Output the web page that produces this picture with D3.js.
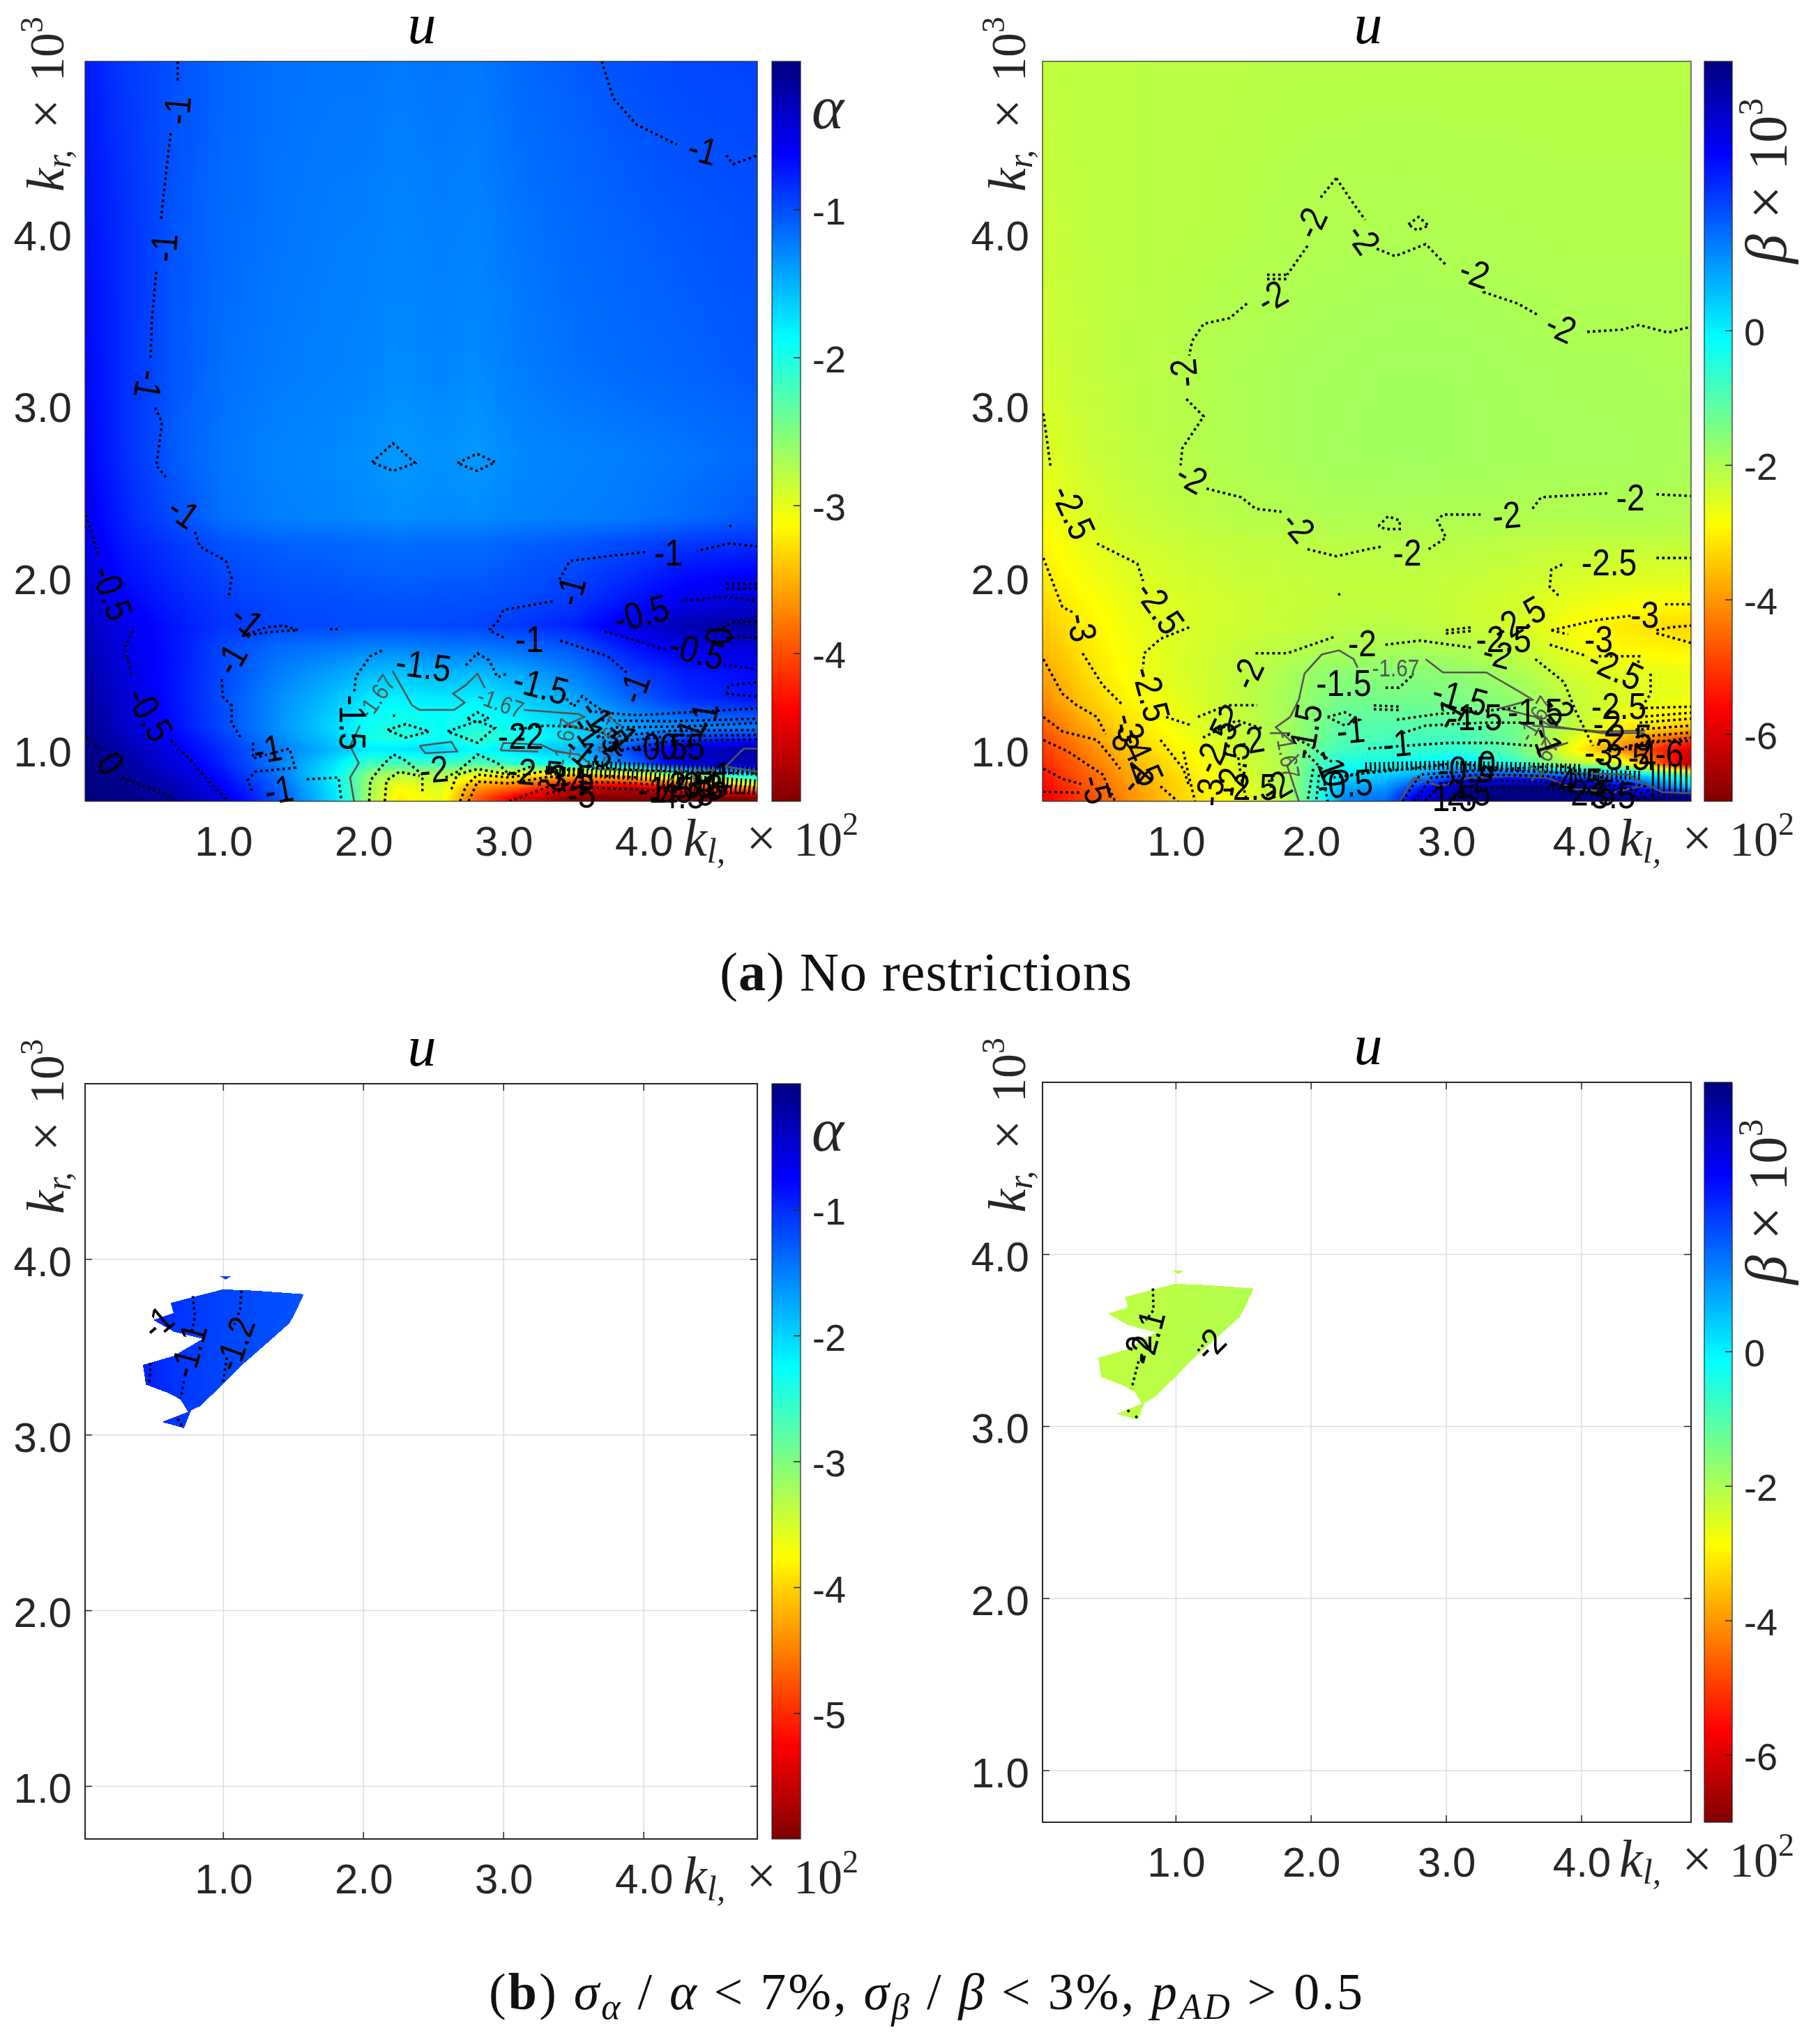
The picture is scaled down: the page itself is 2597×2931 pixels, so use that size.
<!DOCTYPE html>
<html><head><meta charset="utf-8">
<style>
html,body{margin:0;padding:0;background:#fff}
#wrap{position:relative;width:2597px;height:2931px;overflow:hidden;background:#fff}
canvas,svg{position:absolute;left:0;top:0}
</style>
<script src="https://cdn.jsdelivr.net/npm/d3@7"></script>
</head><body><div id="wrap"><svg id="grid" width="2597" height="2931"></svg><canvas id="cv" width="2597" height="2931"></canvas><svg id="chart" width="2597" height="2931"></svg></div>
<script>
// ---------- data ----------
const kl=[0.02,0.3,0.65,1.0,1.4,1.8,2.05,2.25,2.55,2.8,3.1,3.5,3.9,4.3,4.81];
const kr=[5.0,4.0,3.2,2.7,2.35,2.2,2.0,1.85,1.72,1.6,1.45,1.3,1.2,1.13,1.07,1.0,0.92,0.85,0.78,0.72];
const xTicks=[1,2,3,4];
const yTicks=[1,2,3,4];
const alphaTicksA=[-1,-2,-3,-4];
const alphaTicksB=[-1,-2,-3,-4,-5];
const betaTicks=[0,-2,-4,-6];
const alphaGrid=[
[-.75,-.9,-1.02,-1.12,-1.18,-1.2,-1.2,-1.23,-1.2,-1.22,-1.14,-1.08,-1.02,-.97,-.95],
[-.7,-.85,-1.04,-1.14,-1.2,-1.24,-1.25,-1.28,-1.25,-1.27,-1.2,-1.14,-1.1,-1.06,-1.02],
[-.65,-.85,-1.05,-1.17,-1.23,-1.26,-1.28,-1.31,-1.28,-1.31,-1.24,-1.18,-1.14,-1.11,-1.06],
[-.62,-.85,-1.07,-1.2,-1.27,-1.3,-1.33,-1.37,-1.33,-1.37,-1.3,-1.27,-1.24,-1.2,-1.14],
[-.55,-.8,-1.0,-1.17,-1.25,-1.28,-1.3,-1.32,-1.3,-1.31,-1.27,-1.25,-1.22,-1.15,-1.05],
[-.5,-.75,-.9,-1.03,-1.1,-1.12,-1.14,-1.16,-1.14,-1.15,-1.1,-1.05,-.98,-.9,-.85],
[-.42,-.68,-.83,-.96,-1.03,-1.06,-1.08,-1.1,-1.08,-1.08,-1.03,-.96,-.82,-.66,-.58],
[-.35,-.6,-.78,-.9,-.98,-1.0,-1.02,-1.03,-1.02,-1.01,-.98,-.88,-.7,-.52,-.42],
[-.3,-.52,-.72,-.88,-.96,-.98,-1.0,-1.0,-.98,-.96,-.9,-.78,-.48,-.22,-.12],
[-.25,-.5,-.72,-.97,-1.14,-1.2,-1.25,-1.25,-1.2,-1.2,-1.14,-1.03,-.72,-.5,-.42],
[-.2,-.45,-.72,-.98,-1.24,-1.42,-1.54,-1.58,-1.5,-1.54,-1.44,-1.24,-.95,-.75,-.65],
[-.15,-.42,-.72,-1.0,-1.32,-1.58,-1.78,-1.82,-1.76,-1.8,-1.66,-1.44,-1.12,-.85,-.7],
[-.1,-.38,-.7,-.98,-1.34,-1.66,-1.9,-1.95,-1.88,-1.95,-1.8,-1.6,-1.32,-1.1,-1.0],
[-.08,-.35,-.68,-.98,-1.35,-1.7,-1.95,-2.0,-1.9,-2.02,-1.9,-1.68,-1.42,-1.28,-1.18],
[-.05,-.3,-.62,-.92,-1.3,-1.65,-1.95,-2.05,-1.9,-2.12,-1.97,-1.72,-1.3,-.95,-.85],
[-.03,-.22,-.55,-.85,-1.22,-1.55,-1.8,-1.75,-1.68,-1.9,-1.72,-1.55,-.95,-.35,-.2],
[-.01,-.15,-.45,-.8,-1.25,-1.75,-2.2,-2.2,-2.15,-2.25,-2.05,-1.8,-1.2,-.4,-.2],
[0,-.1,-.35,-.7,-1.2,-1.85,-2.6,-2.8,-2.75,-3.1,-3.2,-3.5,-3.3,-2.5,-1.8],
[0,-.05,-.25,-.6,-1.1,-1.8,-2.7,-3.1,-2.95,-3.6,-3.9,-4.6,-4.7,-4.3,-3.5],
[0,-.02,-.18,-.5,-1.05,-1.75,-2.7,-3.2,-3.0,-3.9,-4.5,-5,-5,-5,-5]];
const betaGrid=[
[-2.2,-2.15,-2.15,-2.12,-2.12,-2.1,-2.1,-2.1,-2.1,-2.1,-2.1,-2.1,-2.1,-2.1,-2.1],
[-2.3,-2.2,-2.15,-2.12,-2.1,-2.05,-2.03,-2.02,-2.0,-2.0,-2.02,-2.03,-2.05,-2.05,-2.05],
[-2.4,-2.25,-2.15,-2.1,-2.0,-1.95,-1.92,-1.9,-1.88,-1.87,-1.88,-1.92,-1.95,-1.95,-1.98],
[-2.55,-2.35,-2.2,-2.1,-2.02,-1.95,-1.9,-1.88,-1.87,-1.85,-1.87,-1.9,-1.92,-1.93,-1.95],
[-2.8,-2.5,-2.3,-2.2,-2.1,-2.05,-2.02,-2.0,-1.98,-2.0,-2.0,-2.02,-2.02,-2.0,-2.02],
[-2.95,-2.65,-2.4,-2.3,-2.22,-2.18,-2.15,-2.12,-2.1,-2.1,-2.12,-2.15,-2.2,-2.2,-2.2],
[-3.1,-2.8,-2.55,-2.4,-2.3,-2.25,-2.22,-2.2,-2.2,-2.2,-2.25,-2.3,-2.45,-2.5,-2.55],
[-3.3,-2.95,-2.65,-2.5,-2.35,-2.3,-2.25,-2.22,-2.22,-2.22,-2.3,-2.4,-2.65,-2.8,-2.9],
[-3.45,-3.05,-2.7,-2.5,-2.35,-2.25,-2.2,-2.15,-2.12,-2.15,-2.25,-2.4,-2.8,-3.1,-3.3],
[-3.6,-3.15,-2.75,-2.5,-2.3,-2.15,-2.05,-2.0,-1.98,-1.98,-2.05,-2.25,-2.65,-2.95,-3.05],
[-3.85,-3.3,-2.8,-2.5,-2.25,-2.0,-1.75,-1.65,-1.62,-1.6,-1.7,-1.95,-2.4,-2.6,-2.65],
[-4.1,-3.5,-2.95,-2.6,-2.25,-1.95,-1.6,-1.4,-1.4,-1.4,-1.45,-1.7,-2.2,-2.5,-2.7],
[-4.4,-3.7,-3.1,-2.7,-2.3,-1.95,-1.5,-1.2,-1.15,-1.2,-1.25,-1.5,-2.1,-2.7,-3.0],
[-4.6,-3.9,-3.2,-2.75,-2.3,-1.95,-1.4,-1.05,-1.0,-1.0,-1.0,-1.35,-2.1,-3.0,-3.5],
[-4.8,-4.1,-3.3,-2.85,-2.35,-1.95,-1.35,-1.0,-.9,-.85,-.85,-1.3,-2.4,-3.6,-4.8],
[-5.0,-4.3,-3.5,-3.0,-2.45,-1.98,-1.1,-.8,-.7,-.7,-.6,-1.2,-2.7,-4.2,-6.0],
[-5.2,-4.5,-3.7,-3.15,-2.55,-2.0,-.9,-.4,-.3,-.1,.2,-.6,-2.0,-2.5,-6.5],
[-5.4,-4.7,-3.85,-3.25,-2.65,-2.05,-.7,.2,.4,.8,1.8,2.0,1.5,.9,-1.0],
[-5.6,-4.85,-4.0,-3.35,-2.75,-2.1,-.6,.8,1.0,2.2,3.6,4,4,3,.5],
[-5.7,-5.0,-4.1,-3.4,-2.8,-2.15,-.55,1.2,1.4,3.0,4,4,4,4,4]];
// region kept by the restrictions in (b)
const keptRegion=[[.624,3.752],[.81,3.791],[.996,3.829],[1.223,3.822],[1.574,3.802],[1.512,3.694],[1.471,3.636],[1.306,3.519],[1.14,3.403],[.996,3.287],[.831,3.163],[.769,3.14],[.719,3.039],[.562,3.074],[.748,3.132],[.694,3.202],[.604,3.24],[.447,3.287],[.426,3.399],[.645,3.45],[.851,3.547],[.645,3.589],[.5,3.655],[.645,3.694]];
const keptSpot=[[.975,3.905],[1.058,3.905],[1.015,3.885]];
// contour lines (k_l, k_r)
const alphaLines=[
[[.674,5],[.674,4.885]],
[[.624,4.583],[.595,4.382],[.554,4.079]],
[[.521,3.777],[.488,3.475],[.48,3.273]],
[[.513,2.988],[.562,2.904],[.542,2.769],[.521,2.652],[.604,2.568]],
[[.798,2.265],[.831,2.181],[1.017,2.097],[1.058,1.997],[1.037,1.879]],
[[1.132,1.661],[1.306,1.711],[1.429,1.721],[1.533,1.694],[1.429,1.69],[1.306,1.68],[1.132,1.661]],
[[1.76,1.7],[1.834,1.7]],
[[.988,1.409],[.996,1.308],[1.058,1.258],[1.058,1.157],[1.12,1.073]],
[[1.211,1.04],[1.211,.949],[1.471,1.006],[1.512,.895],[1.223,.871],[1.173,.821],[1.211,.75]],
[[1.595,.828],[1.822,.838],[1.842,.7]],
[[3.7,5],[3.783,4.785],[3.948,4.633],[4.237,4.516]],
[[4.588,4.455],[4.637,4.402],[4.815,4.455]],
[[4.61,2.3],[4.625,2.3]],
[[4.815,2.181],[4.609,2.198],[4.381,2.155]],
[[4.01,2.148],[3.741,2.124],[3.473,2.097],[3.391,1.98]],
[[3.349,1.862],[2.998,1.812],[2.957,1.745],[2.895,1.694],[3.019,1.644]],
[[3.403,1.634],[3.742,1.543],[3.886,1.442]],
[[.017,2.366],[.108,2.131]],
[[.356,1.694],[.294,1.594],[.348,1.426]],
[[.624,1.056],[.789,.922],[.851,.855],[1.037,.7]],
[[.017,1.073],[.129,1.006]],
[[.273,.838],[.604,.737],[.645,.7]],
[[2.131,1.576],[2.049,1.543],[1.945,1.425],[1.933,1.326]],
[[2.73,1.49],[2.813,1.56],[2.895,1.52],[2.957,1.42],[3.019,1.44]],
[[3.42,1.32],[3.5,1.25],[3.56,1.31],[3.66,1.25],[3.72,1.22]],
[[2.17,1.115],[2.3,1.148],[2.47,1.106],[2.3,1.07],[2.17,1.115]],
[[2.6,1.106],[2.813,1.167],[2.937,1.127],[2.813,1.04],[2.6,1.106]],
[[2.742,1.18],[2.813,1.217],[2.895,1.18],[2.813,1.157],[2.742,1.18]],
[[2.21,1.197],[2.225,1.197]],
[[3.07,1.117],[3.3,1.14],[3.55,1.13],[3.75,1.09]],
[[2.04,.7],[2.049,.821],[2.131,.905],[2.214,.972],[2.296,.938],[2.42,.855]],
[[2.42,.838],[2.42,.747]],
[[2.585,.838],[2.668,.871],[2.813,.972],[2.957,.922],[3.04,.855]],
[[2.152,.7],[2.164,.821],[2.255,.871],[2.4,.848]],
[[2.627,.77],[2.668,.855],[2.813,.888],[3.04,.855],[3.205,.905]],
[[2.689,.7],[2.73,.787],[2.813,.855],[3.04,.838],[3.267,.871],[3.535,.888]],
[[2.75,.7],[2.813,.814],[3.04,.804],[3.287,.838],[3.535,.855],[3.948,.838]],
[[3.04,.7],[3.329,.787],[3.535,.814],[3.948,.804],[4.361,.781]],
[[3.308,.747],[3.576,.781],[3.948,.77],[4.361,.747],[4.815,.747]],
[[3.659,.895],[3.948,.881],[4.361,.871],[4.815,.861]],
[[4.59,1.963],[4.815,1.963]],[[4.59,1.936],[4.815,1.936]],
[[4.258,1.862],[4.588,1.889],[4.815,1.862]],
[[3.72,1.688],[4.175,1.577]],
[[4.526,1.694],[4.65,1.745],[4.815,1.745]],
[[4.588,1.651],[4.815,1.651]],
[[4.567,1.493],[4.815,1.466]],
[[4.588,1.325],[4.609,1.375],[4.815,1.392]],
[[4.588,1.325],[4.815,1.308]],
[[3.65,1.22],[3.95,1.2],[4.4,1.22],[4.81,1.24]],
[[3.7,1.17],[4.2,1.165],[4.81,1.18]],
[[3.8,1.13],[4.3,1.135],[4.81,1.155]],
[[3.7,1.07],[4.2,1.11],[4.81,1.115]],
[[3.75,1.04],[4.2,1.08],[4.81,1.085]],
[[3.82,.93],[3.85,1.0],[4.2,1.05],[4.81,1.06]],
// the two small diamonds near k_r = 2.67
[[2.06,2.67],[2.21,2.78],[2.37,2.665],[2.21,2.62],[2.06,2.67]],
[[2.67,2.665],[2.81,2.72],[2.94,2.67],[2.81,2.62],[2.67,2.665]]];
const alphaGrey=[
[[2.206,1.459],[2.276,1.358],[2.346,1.258],[2.4,1.231],[2.647,1.231],[2.722,1.274],[2.639,1.325],[2.73,1.375],[2.813,1.442],[2.866,1.358]],
[[3.143,1.231],[3.535,1.207],[3.576,1.19],[3.432,1.14],[3.721,1.096]],
[[1.974,1.14],[1.904,1.022],[1.966,.922],[1.904,.838],[1.933,.7]],
[[2.4,1.022],[2.627,1.046],[2.668,.989],[2.441,.979],[2.4,1.022]],
[[2.978,.996],[2.998,1.039],[3.267,1.029],[3.37,.989],[3.535,.972],[3.659,.888]],
[[2.978,.996],[3.246,.989]],
[[3.659,.888],[4.278,.871]],
[[4.567,.888],[4.712,1.006],[4.815,1.006]],
[[4.567,.905],[4.815,.871]]];
const alphaHatch=[
[[3.6,.91],[4.2,.89],[4.81,.875]],
[[3.3,.88],[3.9,.85],[4.81,.80]],
[[4.1,.80],[4.81,.76]]];
const alphaLabels=[
[.666,4.717,"-1",-85],[.571,3.918,"-1",-85],[.471,3.122,"-1",100],[.719,2.383,"-1",35],[1.173,1.755,"-1",40],[1.05,1.526,"-1",-60],[1.314,1.006,"-1",-10],[1.396,.77,"-1",-10],[4.423,4.489,"-1",15],[4.175,2.148,"-1",0],[3.473,1.923,"-1",-75],[3.184,1.644,"-1",0],[3.927,1.358,"-1",-70],
[.211,1.913,"-0.5",70],[.48,1.207,"-0.5",60],[.199,.922,"0",55],[3.981,1.795,"-0.5",-15],[4.381,1.577,"-0.5",15],[4.538,1.66,"0",90],
[2.429,1.493,"-1.5",8],[3.267,1.375,"-1.5",15],[1.925,1.157,"-1.5",90],[2.503,.888,"-2",-5],[3.06,1.083,"-2",0],[3.184,1.083,"-2",0],[3.225,.871,"-2.5",5],[3.349,.838,"-3",0],[3.45,.838,"-3.5",0],[3.5,.82,"-4",0],[3.556,.744,"-5",0],
[3.721,1.14,"-1.5",55],[3.55,1.0,"-1",40],[3.66,1.05,"-1.5",55],[4.113,1.022,"-0.5",0],[4.237,1.022,"-0.5",0],[3.845,1.09,"-1",45],[4.423,1.19,"-1",-80],[4.319,1.09,"-1",-70],
[4.155,.77,"-1.5",0],[4.237,.737,"-4.5",0],[4.402,.754,"-5",0],[4.464,.787,"-3",0],[4.526,.855,"-1",0],[4.3,.8,"-2.5",0],[4.4,.8,"-3.5",0]];
const alphaGreyLabels=[[2.09,1.308,"-1.67",-55],[2.978,1.274,"-1.67",20],[3.432,1.046,"-1.67",-80],[4.34,.838,"-1.67",0],[3.75,1.06,"-1.67",-70]];
const betaLines=[
[[2.186,4.321],[2.058,4.197]],[[1.973,3.928],[1.823,3.76]],[[1.674,3.76],[1.823,3.76]],[[1.674,3.735],[1.823,3.735]],
[[1.525,3.592],[1.397,3.508],[1.205,3.475],[1.119,3.374],[1.098,3.29]],
[[1.077,3.038],[1.205,2.937],[1.047,2.752],[1.034,2.652]],
[[1.226,2.517],[1.482,2.467],[1.589,2.4],[1.781,2.383]],
[[1.973,2.165],[2.186,2.124],[2.421,2.165],[2.527,2.181]],
[[2.869,2.165],[2.997,2.232],[2.933,2.333],[2.975,2.366],[3.253,2.366]],
[[3.637,2.4],[3.701,2.467],[4.191,2.49]],[[4.554,2.484],[4.81,2.474]],
[[2.186,4.321],[2.292,4.197],[2.399,4.079]],
[[2.485,3.911],[2.621,3.868],[2.847,3.938],[2.997,3.817]],
[[3.274,3.693],[3.274,3.66],[3.53,3.592],[3.679,3.525]],
[[4.042,3.428],[4.298,3.441],[4.426,3.468],[4.639,3.424],[4.81,3.458]],
[[2.719,4.052],[2.795,4.096],[2.869,4.045],[2.783,4.019],[2.719,4.052]],
[[2.497,2.299],[2.569,2.356],[2.655,2.332],[2.655,2.282],[2.549,2.282],[2.497,2.299]],
[[2.2,1.9],[2.215,1.905]],
[[.019,2.954],[.074,2.635]],
[[.416,2.198],[.714,2.081],[.757,1.98]],
[[1.098,1.711],[.885,1.644],[.765,1.56],[.757,1.476]],
[[.927,1.19],[1.119,1.14]],
[[.019,2.114],[.16,1.829],[.245,1.795]],
[[.309,1.56],[.458,1.375],[.608,1.258]],
[[.885,1.056],[1.055,.888],[1.098,.787]],
[[.019,1.526],[.16,1.325],[.266,1.258],[.416,1.19],[.48,1.089]],
[[.019,1.19],[.16,1.106],[.416,1.056],[.522,.955],[.586,.888]],
[[.885,.787],[1.013,.7]],
[[.019,1.056],[.202,.989],[.458,.855],[.55,.7]],
[[.019,.89],[.16,.83],[.3,.8]],
[[.019,.755],[.3,.75]],
[[1.589,1.56],[1.823,1.56],[2.165,1.654]],
[[2.549,1.61],[2.805,1.634],[3.188,1.593]],
[[3.658,1.526],[3.871,1.392],[3.957,1.224],[4.084,1.022]],
[[2.55,1.36],[2.65,1.36],[2.76,1.44]],
[[1.162,1.19],[1.376,1.258],[1.602,1.258]],
[[1.055,.989],[1.098,.838],[1.141,.7]],
[[1.461,.955],[1.482,.838],[1.525,.7]],
[[1.674,.855],[1.738,.7]],
[[1.2,1.07],[1.45,1.17],[1.65,1.12]],
[[2.122,1.19],[2.25,1.217],[2.357,1.174],[2.25,1.14],[2.122,1.19]],
[[2.463,1.257],[2.655,1.25]],[[2.463,1.235],[2.655,1.23]],
[[2.634,1.174],[2.933,1.207],[3.274,1.224],[3.53,1.244]],
[[2.677,1.096],[2.847,1.14],[3.274,1.157],[3.572,1.157]],
[[2.421,1.006],[2.677,1.022],[3.018,1.039],[3.359,1.039],[3.658,1.022]],
[[1.823,1.09],[1.994,1.022],[2.165,.922]],
[[1.951,.989],[2.079,.888],[2.122,.7]],
[[2.015,.888],[1.973,.7]],
[[2.058,.855],[2.037,.7]],
[[2.165,.838],[2.335,.855],[2.591,.888]],
[[2.293,.855],[2.719,.888],[3.061,.922],[3.445,.888],[3.829,.905],[4.127,.871]],
[[2.677,.7],[2.805,.855],[3.274,.881],[3.7,.871],[4.042,.855],[4.468,.787],[4.554,.7]],
[[2.762,.7],[2.89,.838],[3.274,.855],[3.7,.848],[4.042,.821],[4.426,.76],[4.49,.7]],
[[2.847,.7],[2.954,.804],[3.274,.821],[3.7,.814],[4.042,.787],[4.383,.737],[4.426,.7]],
[[3.018,.7],[3.274,.781],[3.7,.781],[4.042,.747],[4.298,.7]],
[[3.777,1.694],[4.127,1.755],[4.362,1.778]],
[[3.777,1.694],[3.9,1.67]],
[[4.618,1.845],[4.81,1.845]],
[[4.554,1.694],[4.66,1.711],[4.81,1.721]],
[[4.554,1.677],[4.81,1.62]],
[[3.765,1.61],[4.042,1.543]],
[[4.127,1.543],[4.426,1.543],[4.417,1.493]],
[[4.511,1.442],[4.511,1.325],[4.468,1.274]],
[[3.829,1.896],[3.765,1.946],[3.777,2.047],[3.871,2.081]],
[[4.554,2.114],[4.81,2.114]],
[[2.997,1.694],[3.188,1.711]],[[2.997,1.675],[3.188,1.69]],
[[4.43,1.241],[4.81,1.25]],[[4.43,1.19],[4.81,1.215]],[[4.43,1.157],[4.81,1.18]],[[4.4,1.116],[4.81,1.14]],[[4.4,1.073],[4.81,1.1]],[[4.35,1.022],[4.81,1.07]],[[4.2,.989],[4.5,1.05],[4.81,1.05]]];
const betaGrey=[
[[1.845,1.19],[1.909,1.291],[1.951,1.442],[2.079,1.553],[2.207,1.577],[2.314,1.526],[2.344,1.476]],
[[2.847,1.526],[2.975,1.449],[3.295,1.449],[3.53,1.342],[3.637,1.291],[3.402,1.241],[3.658,1.19],[3.765,1.14],[4.148,1.096],[4.468,1.096]],
[[3.637,1.14],[4.127,1.106],[4.468,1.11]],
[[1.845,1.19],[1.738,1.13],[1.866,1.039]],
[[1.695,1.096],[1.845,1.096]],
[[1.909,.7],[1.845,.855],[1.823,.905],[1.909,.972]],
[[2.762,.838],[2.953,.787],[3.167,.838],[3.487,.848],[3.743,.838],[3.956,.77],[4.255,.754],[4.468,.794]],
[[3.7,.871],[4.34,.855],[4.596,.754],[4.81,.747]],
[[2.655,.7],[2.762,.838]],
[[3.7,1.2],[3.74,1.0],[3.9,1.04]]];
const betaHatch=[
[[2.4,.9],[3.0,.91],[3.6,.9],[4.0,.89]],
[[3.95,.86],[4.45,.85]]];
const betaCorner=[[[4.52,.82],[4.81,.82]]];
const betaLabels=[
[1.994,4.062,"-2",-65],[2.391,3.972,"-2",55],[1.708,3.636,"-2",-30],[3.21,3.777,"-2",20],[3.85,3.458,"-2",25],[1.055,3.189,"-2",-95],[1.119,2.584,"-2",30],[1.909,2.299,"-2",50],[2.711,2.148,"-2",0],[3.445,2.366,"-2",-5],[4.362,2.467,"-2",0],
[.245,2.383,"-2.5",65],[.885,1.829,"-2.5",55],[4.204,2.091,"-2.5",0],[.821,1.325,"-2.5",75],[.309,1.711,"-3",80],[.629,1.073,"-3",85],[.66,1.13,"-3",75],[.75,.95,"-4.5",65],[.693,.838,"-4",-50],[.415,.77,"-5",75],
[3.53,1.761,"-2.5",-30],[3.423,1.644,"-2.5",0],[3.38,1.56,"-2",15],[4.468,1.788,"-3",0],[4.127,1.644,"-3",0],[4.255,1.476,"-2.5",25],[1.525,1.442,"-2",-65],[2.378,1.62,"-2",0],[2.241,1.392,"-1.5",0],[3.103,1.308,"-1.5",15],[1.951,1.106,"-1.5",-80],[2.293,1.117,"-1",-5],[2.634,1.039,"-1",-5],[3.018,1.207,"-1",-60],[3.21,1.19,"-1.5",0],
[1.354,1.173,"-2",-30],[1.546,1.056,"-2",-10],[1.29,1.022,"-2.5",-65],[1.418,.888,"-2.5",-80],[1.247,.754,"-3",-85],[1.546,.787,"-2.5",0],[1.738,.787,"-2",-30],[2.143,.922,"-1",70],[2.25,.804,"-0.5",-5],[2.186,.838,"0",80],
[4.276,1.257,"-2.5",0],[4.191,1.157,"-2",0],[4.32,1.073,"-2.5",0],[4.127,.989,"-3",0],[4.3,.96,"-3.5",0],[3.658,1.224,"-1.5",0],[3.829,1.24,"-2",50],[3.146,.888,"-0.5",0],[3.3,.92,"0",0],[3.06,.72,"1.5",0],[3.167,.754,"2.5",0],[4.084,.754,"2.5",0],[4.234,.737,"3.5",0],[3.956,.821,"-4.5",0],[4.45,.96,"-4",0],[4.65,.98,"-6",0],[3.75,1.05,"-1",70]];
const betaGreyLabels=[[2.625,1.476,"-1.67",0],[1.83,.97,"-1.67",80],[3.66,1.18,"-1.67",-60],[3.7,.94,"-1.67",-60]];
const alphaKeptLines=[[[.48,3.411],[.471,3.287]],[[.781,3.791],[.798,3.674],[.769,3.578]],[[.719,3.306],[.694,3.209]],[[.674,3.093],[.707,3.047]],[[1.128,3.822],[1.12,3.713],[1.078,3.628]],[[1.025,3.442],[.996,3.298]]];
const alphaKeptLabels=[[.529,3.643,"-1",-40],[.748,3.481,"-1.1",-75],[1.078,3.519,"-1.2",-70]];
const betaKeptLines=[[[.829,3.802],[.834,3.676],[.778,3.617]],[[.723,3.379],[.672,3.221]],[[.642,3.095],[.662,3.08]],[[.7,3.06],[.714,3.051]],[[1.162,3.439],[1.226,3.498]]];
const betaKeptLabels=[[.778,3.518,"-2.1",-75],[.72,3.45,"-2",-90],[1.247,3.478,"-2",-45]];

// ---------- colour ----------
const jet=d3.scaleLinear().domain([0,.125,.375,.625,.875,1]).range(["#000080","#0000ff","#00ffff","#ffff00","#ff0000","#800000"]).clamp(true);
function colourLut(lo,hi){
  const n=2048, lut=[];
  for(let i=0;i<n;i++){const c=d3.rgb(jet(i/(n-1)));lut.push([c.r,c.g,c.b]);}
  return v=>lut[Math.max(0,Math.min(n-1,Math.round((hi-v)/(hi-lo)*(n-1))))];
}
function fieldAt(grid,x,y){
  let i=d3.bisectRight(kl,x)-1; i=Math.max(0,Math.min(kl.length-2,i));
  let j=0; while(j<kr.length-2 && y<kr[j+1]) j++;
  const tx=Math.max(0,Math.min(1,(x-kl[i])/(kl[i+1]-kl[i])));
  const ty=Math.max(0,Math.min(1,(y-kr[j])/(kr[j+1]-kr[j])));
  const a=grid[j][i],b=grid[j][i+1],c=grid[j+1][i],d=grid[j+1][i+1];
  return (a*(1-tx)+b*tx)*(1-ty)+(c*(1-tx)+d*tx)*ty;
}
// ---------- panels ----------
const xDomain=[.013,4.81], yDomain=[.7,5];
const panels=[
 {x:[122,1086],y:[88,1149],cb:[1107,1148],cd:[-5,0],cticks:alphaTicksA,grid:alphaGrid,lines:alphaLines,grey:alphaGrey,hatch:alphaHatch,labels:alphaLabels,greyLabels:alphaGreyLabels,full:true,name:"alpha",title:605,ylx:91},
 {x:[1495,2425],y:[88,1149],cb:[2444,2484],cd:[-7,4],cticks:betaTicks,grid:betaGrid,lines:betaLines,grey:betaGrey,hatch:betaHatch,corner:betaCorner,labels:betaLabels,greyLabels:betaGreyLabels,full:true,name:"beta",title:1962,ylx:1470},
 {x:[122,1086],y:[1554,2637],cb:[1107,1148],cd:[-6,0],cticks:alphaTicksB,grid:alphaGrid,lines:alphaKeptLines,labels:alphaKeptLabels,full:false,name:"alpha",title:605,ylx:91},
 {x:[1495,2425],y:[1552,2613],cb:[2444,2484],cd:[-7,4],cticks:betaTicks,grid:betaGrid,lines:betaKeptLines,labels:betaKeptLabels,full:false,name:"beta",title:1962,ylx:1470}
];
const ctx=document.getElementById("cv").getContext("2d");
const gridSvg=d3.select("#grid"), svg=d3.select("#chart");
const TXT="#262626", SANS="'Liberation Sans',Arial,sans-serif", SERIF="'Liberation Serif',serif";

function rich(sel,parts,base){
  let shift=0;
  parts.forEach(p=>{
    const ts=sel.append("tspan").text(p.t).attr("font-size",p.size||base);
    if(p.i) ts.attr("font-style","italic");
    if(p.b) ts.attr("font-weight","bold");
    const target=p.shift||0;
    if(target!==shift) ts.attr("dy",target-shift);
    if(p.dx) ts.attr("dx",p.dx);
    shift=target;
  });
  return sel;
}
function paint(p){
  const sx=d3.scaleLinear().domain(xDomain).range(p.x), sy=d3.scaleLinear().domain(yDomain).range([p.y[1],p.y[0]]);
  const col=colourLut(p.cd[0],p.cd[1]);
  const w=p.x[1]-p.x[0], h=p.y[1]-p.y[0];
  const img=ctx.createImageData(w,h);
  const inside=(x,y)=>d3.polygonContains(keptRegion,[x,y])||d3.polygonContains(keptSpot,[x,y]);
  for(let r=0;r<h;r++){
    const yv=sy.invert(p.y[0]+r+.5);
    if(!p.full && (yv<3||yv>3.95)) continue;
    for(let c=0;c<w;c++){
      const xv=sx.invert(p.x[0]+c+.5);
      if(!p.full && (xv>1.6||!inside(xv,yv))) continue;
      const rgb=col(fieldAt(p.grid,xv,yv)), k=(r*w+c)*4;
      img.data[k]=rgb[0];img.data[k+1]=rgb[1];img.data[k+2]=rgb[2];img.data[k+3]=255;
    }
  }
  ctx.putImageData(img,p.x[0],p.y[0]);
  // colourbar
  const sc=d3.scaleLinear().domain(p.cd).range([p.y[1],p.y[0]]);
  for(let r=p.y[0];r<p.y[1];r++){
    const rgb=col(sc.invert(r+.5));
    ctx.fillStyle=`rgb(${rgb[0]},${rgb[1]},${rgb[2]})`;
    ctx.fillRect(p.cb[0],r,p.cb[1]-p.cb[0],1);
  }
  // grid and ticks (only visible where no field covers them)
  if(!p.full){
    const g=gridSvg.append("g").attr("stroke","#dedede").attr("stroke-width",1.5);
    g.selectAll("line.v").data(xTicks).join("line").attr("x1",sx).attr("x2",sx).attr("y1",p.y[0]).attr("y2",p.y[1]);
    g.selectAll("line.h").data(yTicks).join("line").attr("class","h").attr("y1",sy).attr("y2",sy).attr("x1",p.x[0]).attr("x2",p.x[1]);
    const t=svg.append("g").attr("stroke",TXT).attr("stroke-width",1.5);
    xTicks.forEach(d=>{
      t.append("line").attr("x1",sx(d)).attr("x2",sx(d)).attr("y1",p.y[1]).attr("y2",p.y[1]-10);
      t.append("line").attr("x1",sx(d)).attr("x2",sx(d)).attr("y1",p.y[0]).attr("y2",p.y[0]+10);
    });
    yTicks.forEach(d=>{
      t.append("line").attr("y1",sy(d)).attr("y2",sy(d)).attr("x1",p.x[0]).attr("x2",p.x[0]+10);
      t.append("line").attr("y1",sy(d)).attr("y2",sy(d)).attr("x1",p.x[1]).attr("x2",p.x[1]-10);
    });
  }
  const line=d3.line().x(d=>sx(d[0])).y(d=>sy(d[1]));
  const clipId="clip"+p.x[0]+"_"+p.y[0];
  svg.append("clipPath").attr("id",clipId).append("rect").attr("x",p.x[0]).attr("y",p.y[0]).attr("width",w).attr("height",h);
  const body=svg.append("g").attr("clip-path",`url(#${clipId})`);
  body.selectAll("path.hatch").data(p.hatch||[]).join("path").attr("class","hatch").attr("d",line).attr("fill","none").attr("stroke","#000").attr("stroke-width",13).attr("stroke-dasharray","2.5 4");
  body.selectAll("path.corner").data(p.corner||[]).join("path").attr("class","corner").attr("d",line).attr("fill","none").attr("stroke","#111").attr("stroke-width",48).attr("stroke-dasharray","3 5");
  body.selectAll("path.grey").data(p.grey||[]).join("path").attr("class","grey").attr("d",line).attr("fill","none").attr("stroke","#555").attr("stroke-width",2.6);
  body.selectAll("path.dot").data(p.lines).join("path").attr("class","dot").attr("d",line).attr("fill","none").attr("stroke","#000").attr("stroke-width",3.6).attr("stroke-dasharray","3.6 4.4");
  const put=(arr,fs,fill)=>svg.append("g").selectAll("text").data(arr).join("text")
    .attr("transform",d=>`translate(${sx(d[0])},${sy(d[1])}) rotate(${d[3]}) scale(.96,1.12)`)
    .attr("text-anchor","middle").attr("dy",".36em").attr("font-family",SANS).attr("font-size",fs).attr("fill",fill).text(d=>d[2]);
  put(p.greyLabels||[],31,"#555");
  put(p.labels,p.full?48:47,"#000");
  // box
  svg.append("rect").attr("x",p.x[0]).attr("y",p.y[0]).attr("width",w).attr("height",h).attr("fill","none").attr("stroke",TXT).attr("stroke-width",p.full?1.2:2);
  svg.append("rect").attr("x",p.cb[0]).attr("y",p.y[0]).attr("width",p.cb[1]-p.cb[0]).attr("height",h).attr("fill","none").attr("stroke",TXT).attr("stroke-width",1.2);
  // axes
  const ax=svg.append("g").attr("transform",`translate(0,${p.y[1]})`).call(d3.axisBottom(sx).tickValues(xTicks).tickFormat(d3.format(".1f")).tickSize(0).tickPadding(35));
  const ay=svg.append("g").attr("transform",`translate(${p.x[0]},0)`).call(d3.axisLeft(sy).tickValues(yTicks).tickFormat(d3.format(".1f")).tickSize(0).tickPadding(19));
  const ac=svg.append("g").attr("transform",`translate(${p.cb[1]},0)`).call(d3.axisRight(sc).tickValues(p.cticks).tickFormat(d3.format("d")).tickSize(-10).tickPadding(17));
  [ax,ay,ac].forEach(a=>{a.select(".domain").remove();a.selectAll("text").attr("font-family",SANS).attr("font-size",60).attr("fill",TXT);a.attr("font-family",null);});
  ay.selectAll("text").attr("dy",".39em");
  ac.selectAll("text").attr("font-size",54).attr("dy",".39em").text(d=>String(d));
  ac.selectAll("line").attr("stroke",TXT).attr("stroke-width",1.5);
  // title
  svg.append("text").attr("x",p.title).attr("y",p.y[0]-26).attr("text-anchor","middle").attr("font-family",SERIF).attr("font-style","italic").attr("font-size",82).attr("fill","#000").text("u");
  // x label
  const xl=svg.append("text").attr("x",p.x[1]-(p.name=="alpha"?106:103)).attr("y",p.y[1]+78).attr("font-family",SERIF).attr("fill",TXT);
  rich(xl,[{t:"k",i:1,size:76},{t:"l,",i:1,size:50,shift:10},{t:"×",dx:30,size:76},{t:"10",dx:25,size:70},{t:"2",size:46,shift:-30}],70);
  // y label
  const yl=svg.append("text").attr("transform",`translate(${p.ylx},${p.y[0]+187}) rotate(-90)`).attr("font-family",SERIF).attr("fill",TXT);
  rich(yl,[{t:"k",i:1,size:76},{t:"r,",i:1,size:50,shift:10},{t:"×",dx:30,size:76},{t:"10",dx:25,size:70},{t:"3",size:46,shift:-30}],70);
  // colourbar label
  if(p.name=="alpha"){
    svg.append("text").attr("x",1187).attr("y",p.y[0]+96).attr("text-anchor","middle").attr("font-family",SERIF).attr("font-style","italic").attr("font-size",88).attr("fill",TXT).text("α");
  }else{
    const bl=svg.append("text").attr("transform",`translate(2561,${p.y[0]+290}) rotate(-90)`).attr("font-family",SERIF).attr("fill",TXT);
    rich(bl,[{t:"β",i:1,size:84},{t:"×",dx:22,size:86},{t:"10",dx:22,size:78},{t:"3",size:50,shift:-34}],78);
  }
}
panels.forEach(paint);
// captions
const capA=svg.append("text").attr("x",1032).attr("y",1420).attr("font-family",SERIF).attr("font-size",78).attr("fill","#111").attr("textLength",591).attr("xml:space","preserve");
rich(capA,[{t:"("},{t:"a",b:1},{t:") No restrictions"}],78);
const capB=svg.append("text").attr("x",701).attr("y",2881).attr("font-family",SERIF).attr("font-size",74).attr("fill","#111").attr("textLength",1253).attr("xml:space","preserve");
rich(capB,[{t:"("},{t:"b",b:1},{t:") "},{t:"σ",i:1},{t:"α",i:1,size:52,shift:14},{t:" / "},{t:"α",i:1},{t:" < 7%, "},{t:"σ",i:1},{t:"β",i:1,size:52,shift:14},{t:" / "},{t:"β",i:1},{t:" < 3%, "},{t:"p",i:1},{t:"AD",i:1,size:52,shift:14},{t:" > 0.5"}],74);
</script></body></html>
